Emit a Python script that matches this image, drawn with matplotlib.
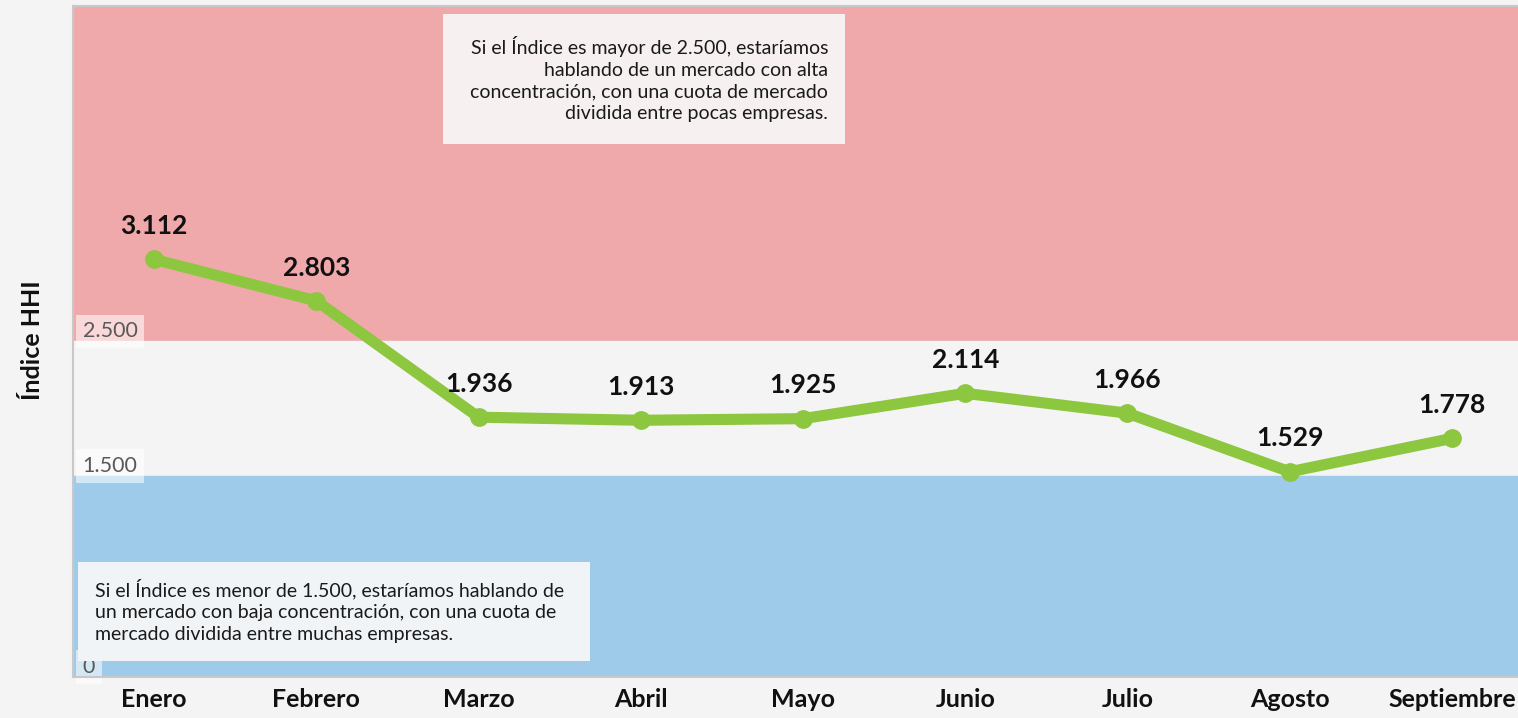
import matplotlib.pyplot as plt
from matplotlib.patches import Rectangle

# Data
months = ['Enero', 'Febrero', 'Marzo', 'Abril', 'Mayo', 'Junio',
          'Julio', 'Agosto', 'Septiembre']
hhi = [3112, 2803, 1936, 1913, 1925, 2114, 1966, 1529, 1778]
hhi_labels = ['3.112', '2.803', '1.936', '1.913', '1.925', '2.114',
              '1.966', '1.529', '1.778']
y_ticks = [0, 1500, 2500]
y_tick_labels = ['0', '1.500', '2.500']

text_high = ("Si el Índice es mayor de 2.500, estaríamos\n"
             "hablando de un mercado con alta\n"
             "concentración, con una cuota de mercado\n"
             "dividida entre pocas empresas.")
text_low = ("Si el Índice es menor de 1.500, estaríamos hablando de\n"
            "un mercado con baja concentración, con una cuota de\n"
            "mercado dividida entre muchas empresas.")

plt.rcParams['font.family'] = ['Lato', 'DejaVu Sans']

fig = plt.figure(figsize=(15.18, 7.18), dpi=100, facecolor='#f4f4f4')
# axes runs a bit past the right edge (cropped in the original)
ax = fig.add_axes([73 / 1518, 1 - 677 / 718, (1533 - 73) / 1518, (677 - 6) / 718])
ax.set_facecolor('#f4f4f4')

x = list(range(len(months)))
ax.set_xlim(-0.5, len(months) - 0.5)
ax.set_ylim(0, 5000)

# Background bands
ax.axhspan(2500, 5000, color='#f0a9ab', zorder=0)
ax.axhspan(1500, 2500, color='#f4f4f4', zorder=0)
ax.axhspan(0, 1500, color='#9fcbea', zorder=0)

# Line
ax.plot(x, hhi, color='#8dc63f', linewidth=8, marker='o', markersize=12.5,
        solid_capstyle='round', zorder=3)
for xi, yi, lab in zip(x, hhi, hhi_labels):
    ax.annotate(lab, (xi, yi), xytext=(0, 24), textcoords='offset points',
                ha='center', va='center', fontsize=19, fontweight='bold',
                color='#111111', zorder=4)

# Note boxes
ax.add_patch(Rectangle((1.78, 3970), 4.26 - 1.78, 4940 - 3970,
                       facecolor='#f6f0f0', edgecolor='none', zorder=2))
ax.text(4.155, 4455, text_high, ha='right', va='center', fontsize=14,
        linespacing=1.35, color='#1a1a1a', zorder=2.5)
ax.add_patch(Rectangle((-0.468, 119), 2.687 + 0.468, 858 - 119,
                       facecolor='#f1f4f7', edgecolor='none', zorder=2))
ax.text(-0.364, 493, text_low, ha='left', va='center', fontsize=14,
        linespacing=1.35, color='#1a1a1a', zorder=2.5)

# Axes styling
ax.set_xticks(x)
ax.set_xticklabels(months, fontsize=18, fontweight='bold', color='#111111')
ax.tick_params(axis='x', length=0, pad=8)
ax.set_yticks(y_ticks)
ax.set_yticklabels(y_tick_labels, fontsize=15.5, color='#595959')
ax.tick_params(axis='y', length=0, pad=-7)
for t in ax.get_yticklabels():
    t.set_ha('left')
    t.set_va('bottom')
    t.set_bbox(dict(facecolor='white', alpha=0.55, edgecolor='none', pad=5))
    t.set_zorder(5)

for side in ['left', 'bottom', 'top']:
    ax.spines[side].set_color('#c8c8c8')
    ax.spines[side].set_linewidth(1.5)
ax.spines['right'].set_visible(False)

fig.text(33 / 1518, 1 - 340 / 718, 'Índice HHI', rotation=90, ha='center',
         va='center', fontsize=18, fontweight='bold', color='#111111')

fig.savefig('out.png', dpi=100, facecolor=fig.get_facecolor())
